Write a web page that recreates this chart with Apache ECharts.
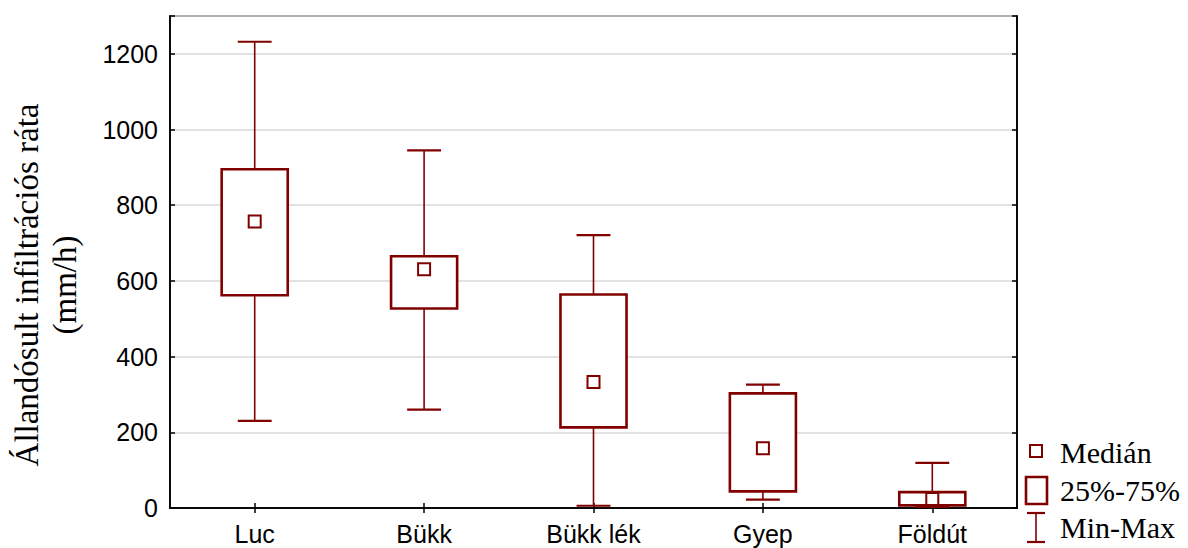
<!DOCTYPE html>
<html>
<head>
<meta charset="utf-8">
<script src="https://cdn.jsdelivr.net/npm/echarts@6/dist/echarts.min.js"></script>
<style>
html,body{margin:0;padding:0;background:#fff;}
#chart{width:1188px;height:548px;}
</style>
</head>
<body>
<div id="chart"></div>
<script>
const categories = ['Luc', 'Bükk', 'Bükk lék', 'Gyep', 'Földút'];
const minVals = [230, 260, 6, 22, 3];
const q1Vals = [562, 527, 213, 44, 7];
const medianVals = [757, 631, 333, 158, 24];
const q3Vals = [895, 665, 564, 303, 42];
const maxVals = [1232, 945, 721, 326, 119];
const yTicks = [0, 200, 400, 600, 800, 1000, 1200];
const legendLabels = ['Medián', '25%-75%', 'Min-Max'];
const yTitle = 'Állandósult infiltrációs ráta\n(mm/h)';

const C = '#800000';
const chart = echarts.init(document.getElementById('chart'), null, {renderer: 'svg'});

const boxData = categories.map((c, i) => [i, minVals[i], q1Vals[i], medianVals[i], q3Vals[i], maxVals[i]]);

function renderItem(params, api) {
  const i = api.value(0);
  const x = api.coord([i, 0])[0];
  const yMin = api.coord([i, api.value(1)])[1];
  const yQ1 = api.coord([i, api.value(2)])[1];
  const yMed = api.coord([i, api.value(3)])[1];
  const yQ3 = api.coord([i, api.value(4)])[1];
  const yMax = api.coord([i, api.value(5)])[1];
  const bw = api.size([1, 0])[0];
  const boxW = bw * 0.39;
  const capW = bw * 0.2;
  const sq = 12;
  const wStyle = {stroke: C, lineWidth: 1.6};
  const cStyle = {stroke: C, lineWidth: 2.2};
  return {
    type: 'group',
    children: [
      {type: 'line', shape: {x1: x, y1: yMin, x2: x, y2: yQ1}, style: wStyle},
      {type: 'line', shape: {x1: x, y1: yQ3, x2: x, y2: yMax}, style: wStyle},
      {type: 'line', shape: {x1: x - capW / 2, y1: yMin, x2: x + capW / 2, y2: yMin}, style: cStyle},
      {type: 'line', shape: {x1: x - capW / 2, y1: yMax, x2: x + capW / 2, y2: yMax}, style: cStyle},
      {type: 'rect', shape: {x: x - boxW / 2, y: yQ3, width: boxW, height: yQ1 - yQ3}, style: {fill: '#fff', stroke: C, lineWidth: 2.6}},
      {type: 'rect', shape: {x: x - sq / 2, y: yMed - sq / 2, width: sq, height: sq}, style: {fill: '#fff', stroke: C, lineWidth: 2}}
    ]
  };
}

const lx = 1036, tx = 1060;
const legendFont = '30px "Liberation Serif", "Times New Roman", serif';
const graphics = [
  {type: 'rect', shape: {x: lx - 6, y: 445, width: 12, height: 12}, style: {fill: '#fff', stroke: C, lineWidth: 2}},
  {type: 'text', x: tx, y: 452, style: {text: legendLabels[0], font: legendFont, fill: '#000', textVerticalAlign: 'middle'}},
  {type: 'rect', shape: {x: 1026, y: 477, width: 21, height: 27}, style: {fill: '#fff', stroke: C, lineWidth: 2.6}},
  {type: 'text', x: tx, y: 490, style: {text: legendLabels[1], font: legendFont, fill: '#000', textVerticalAlign: 'middle'}},
  {type: 'line', shape: {x1: lx, y1: 513, x2: lx, y2: 542}, style: {stroke: C, lineWidth: 1.6}},
  {type: 'line', shape: {x1: lx - 9, y1: 513, x2: lx + 9, y2: 513}, style: {stroke: C, lineWidth: 2.2}},
  {type: 'line', shape: {x1: lx - 9, y1: 542, x2: lx + 9, y2: 542}, style: {stroke: C, lineWidth: 2.2}},
  {type: 'text', x: tx, y: 527, style: {text: legendLabels[2], font: legendFont, fill: '#000', textVerticalAlign: 'middle'}}
];

const option = {
  animation: false,
  backgroundColor: '#fff',
  grid: {left: 170, right: 171, top: 16, bottom: 40, show: true, borderColor: '#000', borderWidth: 1.6, backgroundColor: 'transparent'},
  xAxis: [
    {
      type: 'category', data: categories, position: 'bottom',
      axisLine: {show: true, lineStyle: {color: '#000', width: 1.6}},
      axisTick: {show: true, inside: true, alignWithLabel: true, length: 5, lineStyle: {color: '#000', width: 1.5}},
      axisLabel: {color: '#000', fontSize: 25, fontFamily: '"Liberation Sans", Arial, sans-serif', margin: 13},
      splitLine: {show: false}
    },
    {
      type: 'category', data: categories, position: 'top',
      axisLine: {show: true, lineStyle: {color: '#000', width: 1.6}},
      axisTick: {show: true, inside: true, alignWithLabel: true, length: 5, lineStyle: {color: '#000', width: 1.5}},
      axisLabel: {show: false}, splitLine: {show: false}
    }
  ],
  yAxis: [
    {
      type: 'value', min: 0, max: 1300, interval: 200, position: 'left',
      name: yTitle, nameLocation: 'middle', nameGap: 86, nameRotate: 90,
      nameTextStyle: {fontSize: 33, lineHeight: 38, fontFamily: '"Liberation Serif", "Times New Roman", serif', color: '#000',
        padding: [0, 46, 0, 0]},
      axisLine: {show: true, lineStyle: {color: '#000', width: 1.6}},
      axisTick: {show: true, inside: true, length: 5, lineStyle: {color: '#000', width: 1.5}},
      axisLabel: {color: '#000', fontSize: 25, fontFamily: '"Liberation Sans", Arial, sans-serif', margin: 12,
        formatter: v => (yTicks.indexOf(v) >= 0 ? String(v) : '')},
      splitLine: {show: true, lineStyle: {color: '#d9d9d9', width: 1.6}}
    },
    {
      type: 'value', min: 0, max: 1300, interval: 200, position: 'right',
      axisLine: {show: true, lineStyle: {color: '#000', width: 1.6}},
      axisTick: {show: true, inside: true, length: 5, lineStyle: {color: '#000', width: 1.5}},
      axisLabel: {show: false}, splitLine: {show: false}
    }
  ],
  series: [
    {type: 'custom', name: 'box', renderItem: renderItem, data: boxData, xAxisIndex: 0, yAxisIndex: 0,
     encode: {x: 0, y: [1, 2, 3, 4, 5]}, clip: false, z: 5}
  ],
  graphic: graphics
};
chart.setOption(option);
</script>
</body>
</html>
